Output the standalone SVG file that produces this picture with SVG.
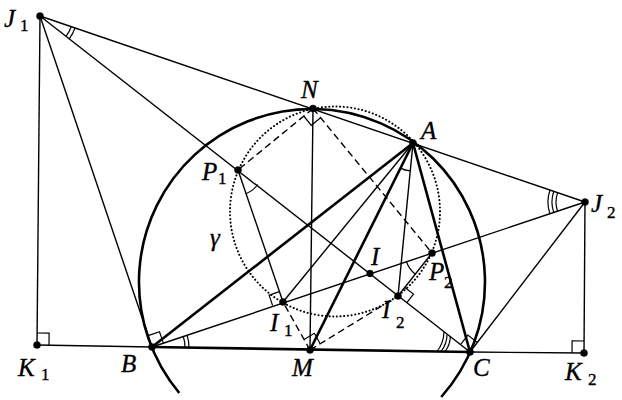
<svg xmlns="http://www.w3.org/2000/svg" width="622" height="400" viewBox="0 0 622 400">
<style>
.thin{stroke:#000;stroke-width:1.4;fill:none}
.bold{stroke:#000;stroke-width:2.6;fill:none}
.dash{stroke:#000;stroke-width:1.4;fill:none;stroke-dasharray:7 4}
.dot{stroke:#000;stroke-width:2;fill:none;stroke-dasharray:0.1 3.6;stroke-linecap:round}
.mark{stroke:#000;stroke-width:1.2;fill:none}
.pt{fill:#000}
.s{font-size:17px;font-style:normal}
</style>
<rect width="622" height="400" fill="#fff"/>
<g id="circles">
<path class="bold" d="M179.3 393 A173 173 0 1 1 441.2 397"/>
<circle class="dot" cx="335" cy="211.5" r="105"/>
</g>
<g id="connectors">
<line class="thin" x1="40" y1="16" x2="585" y2="202"/>
<line class="thin" x1="40" y1="16" x2="37" y2="345"/>
<line class="thin" x1="40" y1="16" x2="152" y2="347"/>
<line class="thin" x1="40" y1="16" x2="470" y2="352"/>
<line class="thin" x1="585" y1="202" x2="152" y2="347"/>
<line class="thin" x1="585" y1="202" x2="470" y2="352"/>
<line class="thin" x1="585" y1="202" x2="584" y2="353"/>
<line class="thin" x1="37" y1="345" x2="152" y2="347"/>
<line class="thin" x1="470" y1="352" x2="584" y2="353"/>
<line class="thin" x1="313" y1="108.5" x2="310" y2="350"/>
<line class="thin" x1="238" y1="170" x2="283" y2="302"/>
<line class="thin" x1="432" y1="253" x2="398" y2="296"/>
<line class="thin" x1="413" y1="143" x2="283" y2="302"/>
<line class="thin" x1="413" y1="143" x2="398" y2="296"/>
<line class="bold" x1="152" y1="347" x2="470" y2="352"/>
<line class="bold" x1="413" y1="143" x2="152" y2="347"/>
<line class="bold" x1="413" y1="143" x2="310" y2="350"/>
<line class="bold" x1="413" y1="143" x2="470" y2="352"/>
<line class="dash" x1="313" y1="108.5" x2="238" y2="170"/>
<line class="dash" x1="313" y1="108.5" x2="432" y2="253"/>
<line class="dash" x1="310" y1="350" x2="283" y2="302"/>
<line class="dash" x1="310" y1="350" x2="398" y2="296"/>
</g>
<g font-family="Liberation Serif, DejaVu Serif, serif" font-size="25" font-style="italic" fill="#000" stroke="#000" stroke-width="0.35">
<g id="J1">
<path class="mark" d="M71.2 26.7 A33 33 0 0 1 66 36.3 M75 28 A37 37 0 0 1 69.2 38.8"/>
<circle class="pt" cx="40" cy="16" r="3.6"/>
<text x="4" y="27">J</text><text class="s" x="20" y="31">1</text>
</g>
<g id="J2">
<path class="mark" d="M557.5 211.2 A29 29 0 0 1 557.6 192.6 M553.7 212.5 A33 33 0 0 1 553.8 191.3 M549.9 213.8 A37 37 0 0 1 550 190"/>
<circle class="pt" cx="585" cy="202" r="3.6"/>
<text x="591" y="212">J</text><text class="s" x="607" y="218">2</text>
</g>
<g id="N">
<path class="mark" d="M303.7 116 L311.3 125.3 L320.6 117.8"/>
<circle class="pt" cx="313" cy="108.5" r="3.6"/>
<text x="301" y="98">N</text>
</g>
<g id="A">
<path class="mark" d="M410.2 170.9 A28 28 0 0 1 400.5 168.1"/>
<circle class="pt" cx="413" cy="143" r="3.6"/>
<text x="421" y="139">A</text>
</g>
<g id="P1">
<path class="mark" d="M257.6 184.5 A25 25 0 0 1 246 193.7"/>
<circle class="pt" cx="238" cy="170" r="3.6"/>
<text x="202" y="180">P</text><text class="s" x="218" y="184">1</text>
</g>
<g id="P2">
<path class="mark" d="M415.3 274.2 A27 27 0 0 1 406.3 261.3"/>
<circle class="pt" cx="432" cy="253" r="3.6"/>
<text x="429" y="280">P</text><text class="s" x="444" y="288">2</text>
</g>
<g id="I">
<circle class="pt" cx="370" cy="273.5" r="3.4"/>
<text x="371" y="265">I</text>
</g>
<g id="I1">
<path class="mark" d="M279.5 291.6 L269.1 295.2 L272.6 305.6"/>
<circle class="pt" cx="283" cy="302" r="3.6"/>
<text x="270" y="331">I</text><text class="s" x="284" y="336">1</text>
</g>
<g id="I2">
<path class="mark" d="M404.8 287.4 L413.5 294.1 L406.7 302.8"/>
<circle class="pt" cx="398" cy="296" r="3.6"/>
<text x="382" y="318">I</text><text class="s" x="396" y="328">2</text>
</g>
<g id="gamma">
<text x="210" y="246">γ</text>
</g>
<g id="K1">
<path class="mark" d="M37.1 333 L49.1 333.2 L49 345.2"/>
<circle class="pt" cx="37" cy="345" r="3.6"/>
<text x="18" y="376">K</text><text class="s" x="41" y="380">1</text>
</g>
<g id="B">
<path class="mark" d="M148.2 335.6 L159.5 331.7 L163.4 343.1"/>
<path class="mark" d="M183.2 336.3 A33 33 0 0 1 185 347.5 M187 335 A37 37 0 0 1 189 347.6"/>
<circle class="pt" cx="152" cy="347" r="3.6"/>
<text x="121" y="372">B</text>
</g>
<g id="M">
<path class="mark" d="M304.1 339.5 L314.4 333.3 L320.2 343.7"/>
<circle class="pt" cx="310" cy="350" r="3.6"/>
<text x="292" y="376">M</text>
</g>
<g id="C">
<path class="mark" d="M477.3 342.5 L467.8 335.1 L460.5 344.6"/>
<path class="mark" d="M445 351.6 A25 25 0 0 0 450.3 336.6 M441 351.5 A29 29 0 0 0 447.1 334.2 M437 351.5 A33 33 0 0 0 444 331.7"/>
<circle class="pt" cx="470" cy="352" r="3.6"/>
<text x="473" y="376">C</text>
</g>
<g id="K2">
<path class="mark" d="M584.1 341 L572.1 340.8 L572 352.8"/>
<circle class="pt" cx="584" cy="353" r="3.6"/>
<text x="565" y="380">K</text><text class="s" x="588" y="385">2</text>
</g>
</g>
</svg>
